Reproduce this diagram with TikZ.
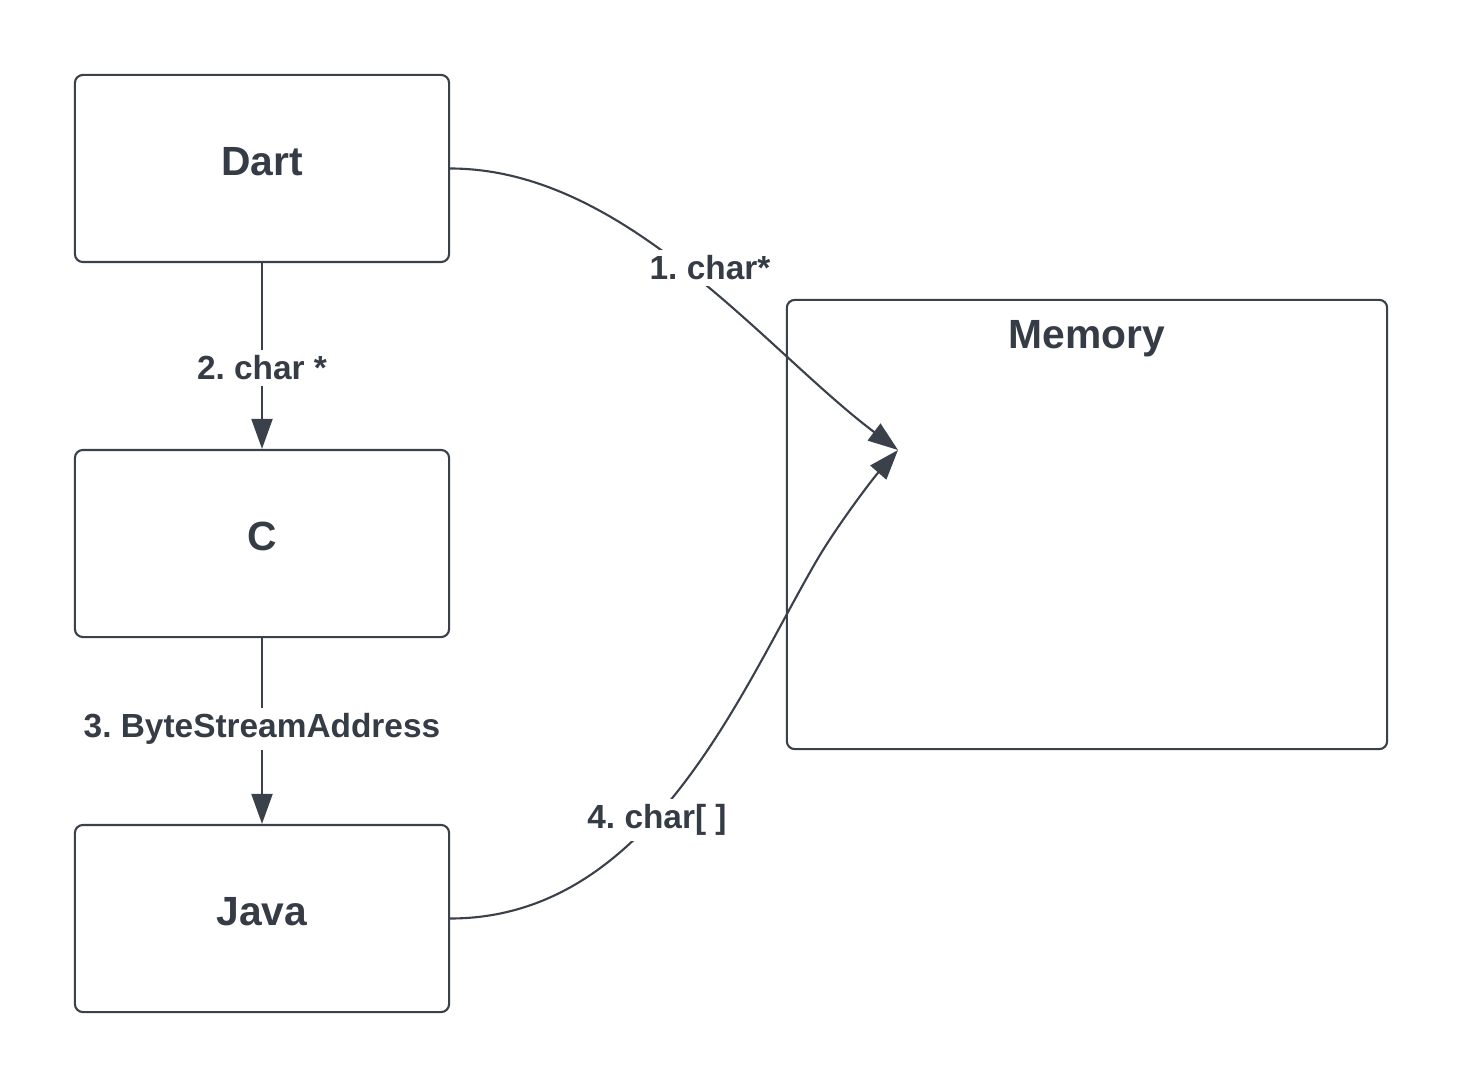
\documentclass[tikz,border=0pt]{standalone}
\usepackage{fontspec}
\setmainfont{Liberation Sans}
\usetikzlibrary{arrows.meta}
\definecolor{ink}{HTML}{363C46}
\definecolor{edge}{HTML}{3A414A}
\frenchspacing
\tikzset{
  box/.style={draw=edge, line width=0.6pt, rounded corners=0.08cm, rectangle,
    minimum width=3.74cm, minimum height=1.87cm, inner sep=0pt},
  title/.style={text=ink, font=\fontsize{11.6}{14}\selectfont\bfseries},
  lbl/.style={fill=white, inner sep=1.5pt, text=ink,
    font=\fontsize{9.5}{11}\selectfont\bfseries},
  conn/.style={draw=edge, line width=0.6pt,
    -{Triangle[length=0.3cm, width=0.21cm]}},
}
\begin{document}
\begin{tikzpicture}[x=0.01cm, y=-0.01cm]
\useasboundingbox (0,0) rectangle (1463,1088);
\node[box] (dart) at (262,168.5) {};
\node[box] (c) at (262,543.5) {};
\node[box] (java) at (262,918.5) {};
\node[title] (dartt) at (262,161.5) {Dart};
\node[title] (ct) at (262,536.5) {C};
\node[title] (javat) at (262,911.5) {Java};
\node[box, minimum width=6cm, minimum height=4.49cm] (mem) at (1087,524.5) {};
\node[title] (memt) at (1087,339) {Memory};
\coordinate (tgt) at (898,450);
\coordinate (bend) at (817,560);
% curves
\draw[conn] (dart.east) .. controls (625,168.5) and (765,350) .. (tgt);
\draw[conn] (java.east) .. controls (650,918.5) and (740,692) .. (bend)
  .. controls (835,529) and (870,482) .. (tgt);
% vertical arrows
\draw[conn] (dart.south) -- (c.north);
\draw[conn] (c.south) -- (java.north);
% labels
\node[lbl] (l1) at (710,268) {1. char*};
\node[lbl] (l2) at (262,368) {2. char *};
\node[lbl] (l3) at (262,729) {3. ByteStreamAddress};
\node[lbl] (l4) at (657,820) {4. char[ ]};
\end{tikzpicture}
\end{document}
